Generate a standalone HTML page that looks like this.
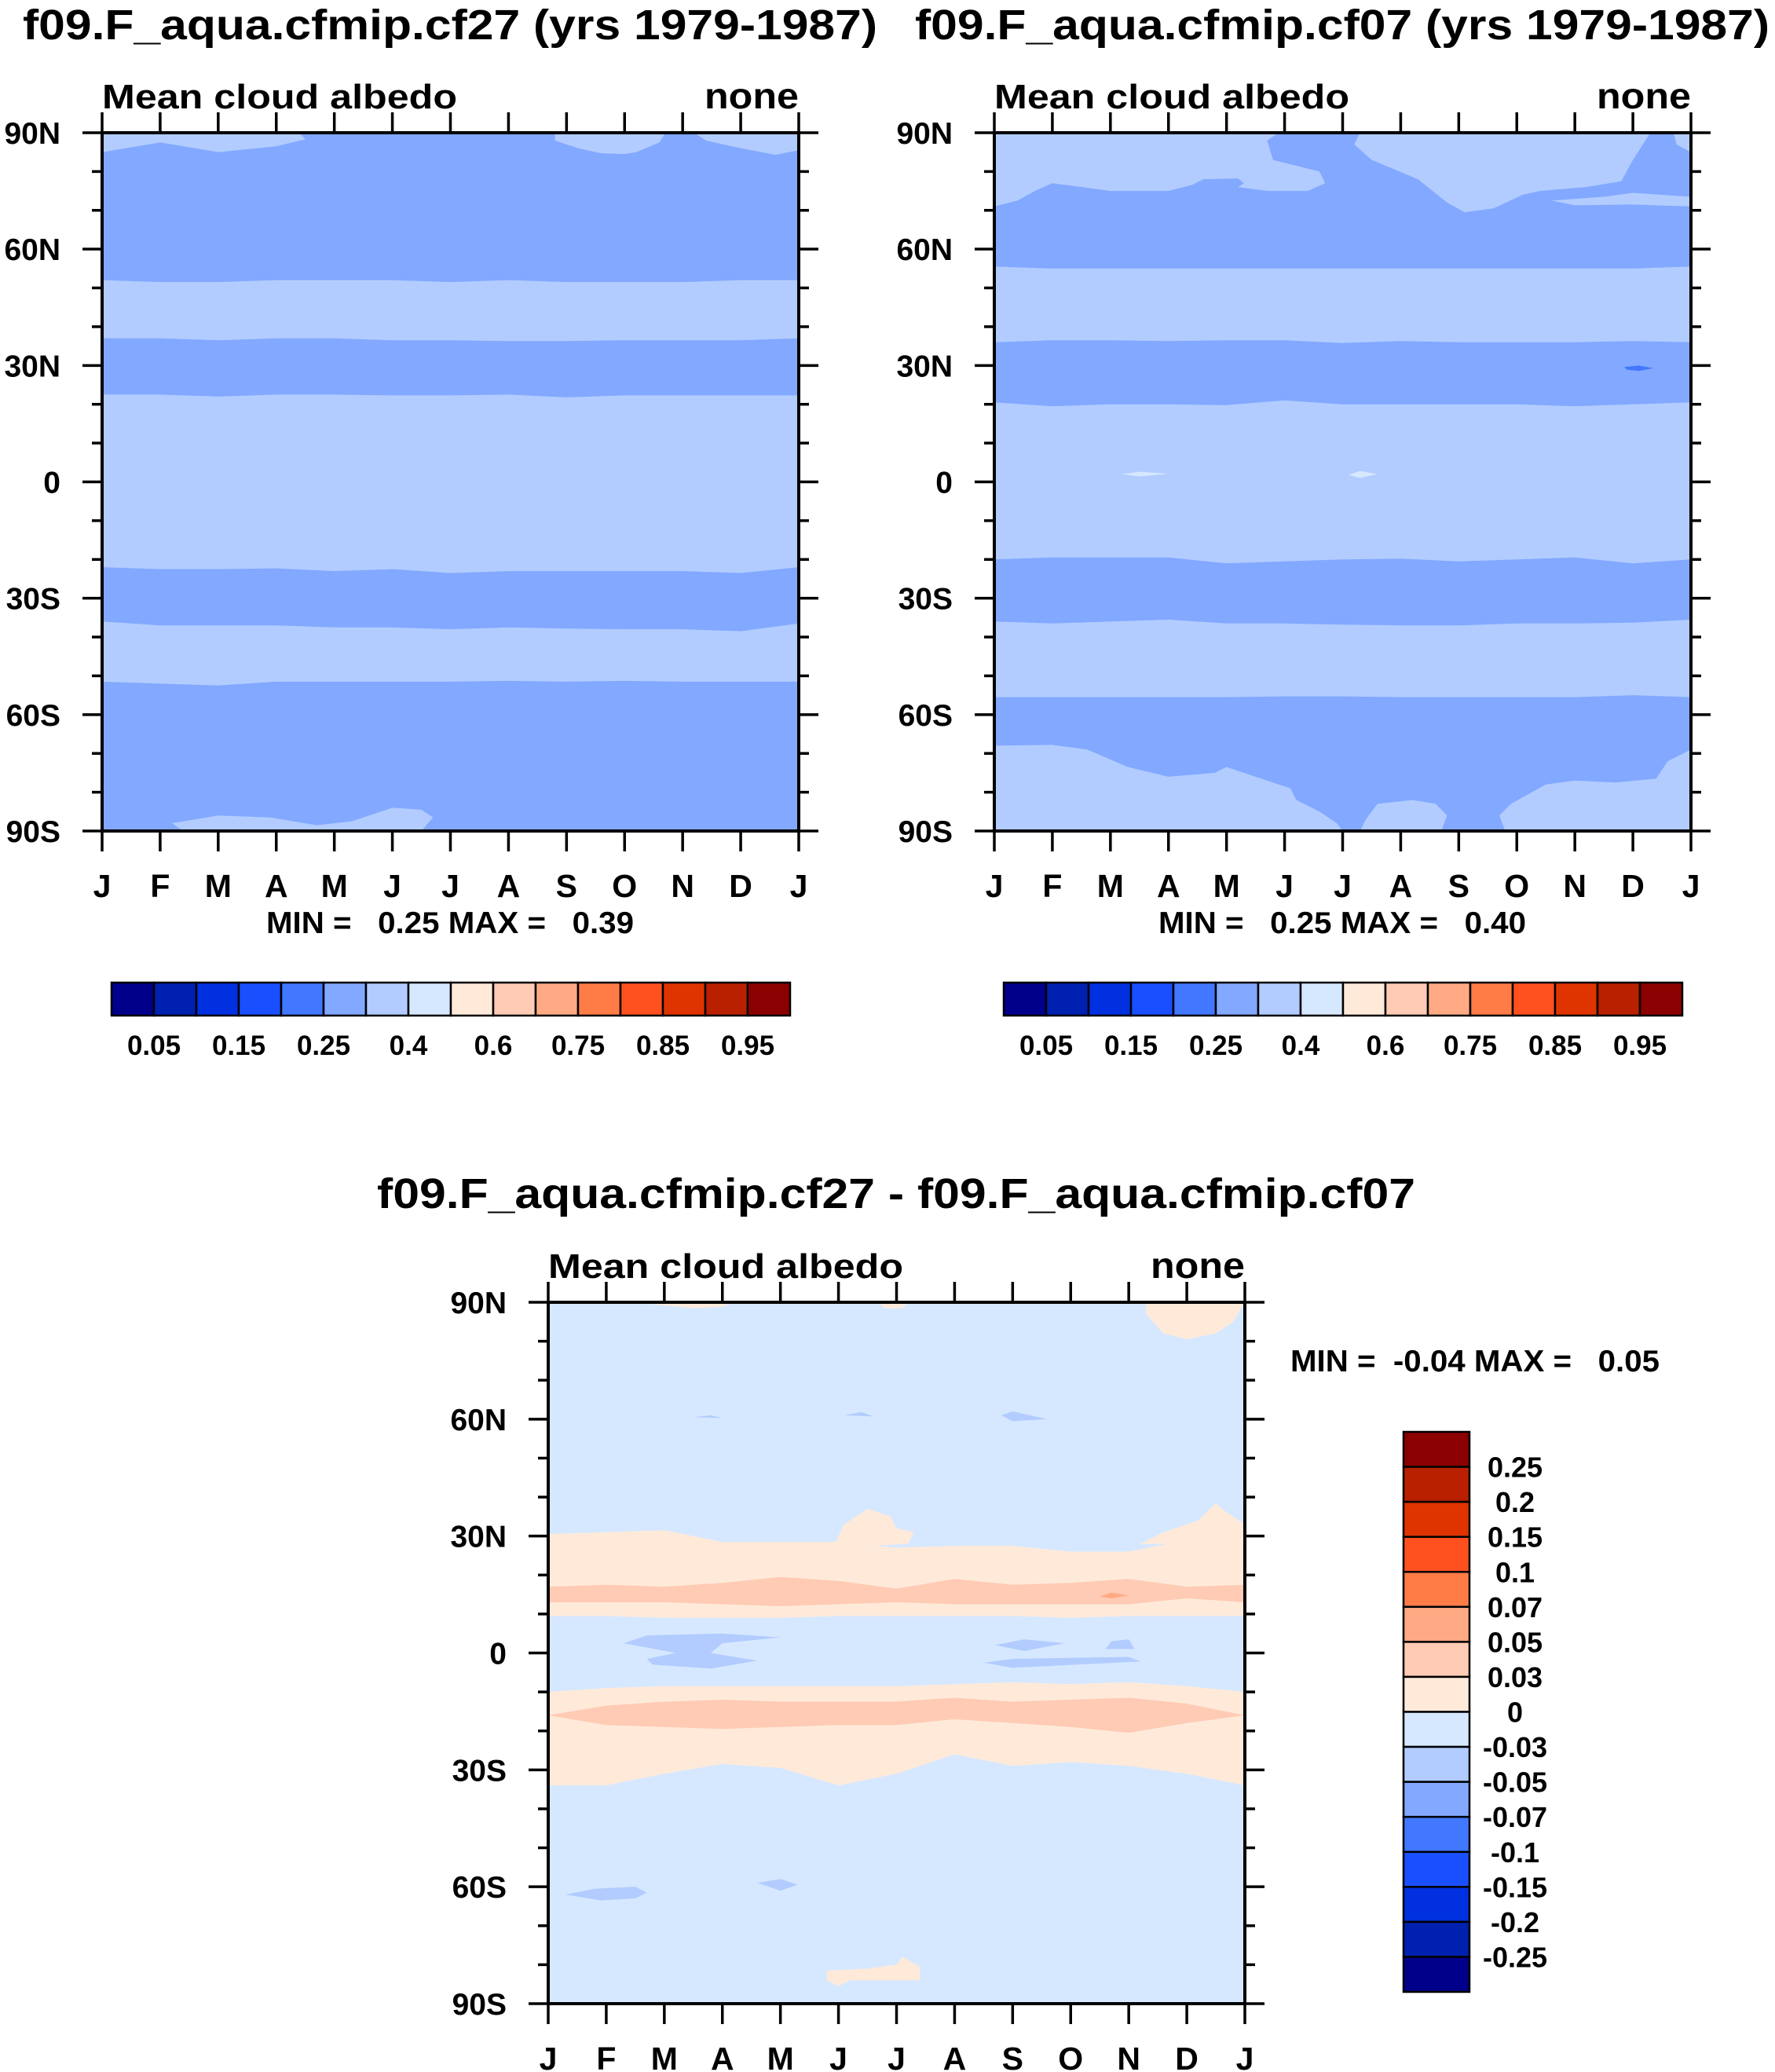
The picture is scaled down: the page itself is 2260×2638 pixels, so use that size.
<!DOCTYPE html>
<html><head><meta charset="utf-8"><style>
html,body{margin:0;padding:0;background:#fff}
svg{display:block}
text{font-family:"Liberation Sans",Arial,sans-serif;font-weight:bold;fill:#000;white-space:pre}
</style></head><body>
<svg id="fig" width="2260" height="2638" viewBox="0 0 2260 2638" xmlns="http://www.w3.org/2000/svg"></svg>
<script>
// ---- colour scale ----
const levelColors = ["#00008a","#0020b0","#0030e0","#1a4fff","#4277ff","#82a8ff","#b2ccff","#d6e8ff","#ffeada","#ffcbb4","#ffaa84","#ff7c46","#ff5020","#e03400","#b82000","#8b0000"];
const topBarLabels = ["0.05","0.15","0.25","0.4","0.6","0.75","0.85","0.95"];
const diffBarLabels = ["0.25","0.2","0.15","0.1","0.07","0.05","0.03","0","-0.03","-0.05","-0.07","-0.1","-0.15","-0.2","-0.25"];
const monthLabels = ["J","F","M","A","M","J","J","A","S","O","N","D","J"];
const latTicks = [90,60,30,0,-30,-60,-90];
const latTickLabels = ["90N","60N","30N","0","30S","60S","90S"];

// ---- panel A (cf27): band boundaries, lat at months 0..12 ----
const aN1Top = [52,51.5,51.5,52,52,52,51.5,52,51.5,51.5,51.5,52,52];
const aN1Bot = [37,37,36.5,37,37,36.5,36.5,36.3,36.3,36.5,36.5,36.5,37];
const aEqTop = [22.5,22.5,22,22.5,22.5,22.3,22.3,22.5,21.8,22.3,22.3,22.3,22.3];
const aEqBot = [-22,-22.5,-22.5,-22.3,-23,-22.5,-23.5,-23,-23,-23,-23,-23.5,-22];
const aS1Top = [-36,-37,-37,-37,-37.5,-37.5,-38,-37.5,-37.8,-38,-38,-38.5,-36.5];
const aS1Bot = [-51.5,-52,-52.5,-51.5,-51.5,-51.5,-51.5,-51.3,-51.5,-51.3,-51.5,-51.5,-51.5];
const aBlobN1 = [[0,90],[0,85],[1,87.5],[1.6,86],[2,85],[3,86.5],[3.5,88.3],[3.4,90]];
const aBlobN2 = [[7.8,90],[7.8,88],[8.2,86],[8.6,84.7],[9,84.5],[9.2,85],[9.6,87.5],[9.7,90]];
const aBlobN3 = [[10.2,90],[10.4,88],[11,86],[11.6,84.3],[12,85.5],[12,90]];
const aBlobS1 = [[1.2,-88],[2,-86],[2.9,-86.5],[3.7,-88.5],[4.3,-87.5],[5,-84],[5.5,-84.5],[5.7,-86.5],[5.5,-90],[1.4,-90]];

// ---- panel B (cf07) ----
const bNTopLine = [[0,71],[0.4,72.5],[0.7,75],[1,77],[1.5,76],[2,75],[3,75],[3.4,76.5],[3.6,78],[4.2,78.2],[4.3,77],[4.2,76],[4.7,75],[5.4,75],[5.7,77],[5.6,80],[4.8,83],[4.7,88],[4.9,90],[6.3,90],[6.2,87],[6.5,83],[7.3,78],[7.8,72],[8.1,69.5],[8.6,70.5],[9.1,74],[9.4,75],[10.2,76],[10.8,77.5],[11,83],[11.3,90],[12,90]];
const bNBot = [55.5,55,55,55,55,55,55,55,55,55,55,55,55.5];
const bBlobNR = [[11.7,90],[11.75,87],[12,85],[12,90]];
const bBlobNSliver = [[9.6,72.5],[10.5,73.5],[11,74.5],[12,73.5],[12,71],[11,71.5],[10,71.3]];
const bD2Top = [36,36.5,36.5,36.3,36.5,36.5,35.8,36.3,36,36,36,36.3,36];
const bD2Bot = [20.5,19.5,20,20,19.8,21,20,20,20,20,19.5,20,20.5];
const bBlobSpot = [[10.85,29.6],[11.1,30],[11.35,29.3],[11.1,28.6],[10.9,28.9]];
const bBlobEq1 = [[2.2,2],[2.5,2.6],[3,2.1],[2.5,1.4]];
const bBlobEq2 = [[6.1,1.8],[6.3,2.8],[6.6,2],[6.3,1]];
const bD3Top = [-20,-19.5,-19.5,-19.5,-21,-20.5,-20,-19.8,-20.5,-20,-19.5,-21,-20];
const bD3Bot = [-36,-36.5,-36,-35.5,-36.5,-36.5,-36.8,-37,-37,-36.5,-36.5,-36.3,-35.5];
const bSTop = [-55.5,-55.5,-55.5,-55.5,-55.5,-55.3,-55.3,-55.5,-55.5,-55.5,-55.5,-55,-55.5];
const bSBotLine = [[0,-68],[1,-67.8],[1.6,-69],[2.3,-73.5],[3,-76],[3.8,-75],[4,-73.5],[4.5,-76],[5.1,-79],[5.2,-82],[5.6,-85],[5.9,-88],[6,-90],[6.3,-90],[6.4,-87],[6.6,-83],[7.2,-82],[7.6,-83],[7.8,-86],[7.7,-90],[8.8,-90],[8.7,-86],[8.9,-83],[9.5,-78],[10,-77],[10.7,-77.5],[11.4,-76.5],[11.6,-72],[12,-69]];

// ---- panel C (difference) ----
const cNTop = [30.5,31,31.5,28.5,28.5,28.5,27,27.5,27.5,26,26,29,31];
const cNBot = [9.5,9.5,9,9,9,9.5,9.5,9.5,9.5,9,9.5,9.5,9.5];
const cNDTop = [17,17.5,17,18,19.5,18.5,16.5,19,17.5,18,19,17,17.5];
const cNDBot = [13,13,13,12.5,12,12.5,13,12.5,12.5,12.5,12.5,14,13];
const cSTop = [-10,-9,-8.5,-8.5,-8.5,-8.5,-8.5,-8,-7.5,-8,-7.5,-8.5,-10];
const cSBot = [-34,-34,-31,-28.5,-29.5,-34,-31,-26,-29,-28,-29,-31,-34];
const cSDTop = [-16,-13.5,-12.5,-12,-12.5,-12.5,-12.5,-11.5,-12.5,-12,-11.5,-13,-16];
const cSDBot = [-16,-18.5,-19,-19.5,-19,-18.5,-18.5,-17,-18,-19,-20.5,-18,-16];
const cOrangeBlobs = [
  [[4.9,27],[5,30],[5.1,33],[5.5,37],[5.9,35],[6,32],[6.3,31],[6.2,28]],
  [[10.2,28],[10.6,31],[11.2,34],[11.5,38.5],[11.6,37],[12,33],[12,28]],
  [[4.8,-81.5],[5.5,-81],[6,-80],[6.1,-78],[6.4,-80.5],[6.4,-84],[5.2,-84],[5,-85.5],[4.8,-84]],
  [[1.8,89.5],[2.5,88.5],[3.1,89],[3,90],[1.8,90]],
  [[5.7,90],[5.8,88.5],[6.1,88.5],[6.2,90]],
  [[10.3,90],[10.3,87],[10.6,82],[11,80.5],[11.5,82],[11.8,85],[12,90]]
];
const cBlueBlobs = [
  [[1.3,2.5],[1.7,4.5],[3,5],[4,4],[3,2.5],[2.8,0],[3.6,-2],[2.8,-4],[1.8,-3],[1.7,-1.5],[2.2,0]],
  [[7.7,2],[8.2,3.5],[8.9,2.5],[8.2,0.5]],
  [[7.5,-2.5],[8,-1.5],[10,-1],[10.2,-2.2],[8,-3.8]],
  [[9.6,1],[9.7,3],[10,3.5],[10.1,1]],
  [[0.3,-62],[0.8,-60.5],[1.5,-60],[1.7,-61.5],[1.5,-63],[0.9,-63.5]],
  [[3.6,-59],[4,-58],[4.3,-59.5],[4,-61]],
  [[2.5,60.5],[2.8,61],[3,60.3]],
  [[5.1,61],[5.4,61.8],[5.6,60.7]],
  [[7.8,61],[8,62],[8.3,61],[8.6,60],[8,59.5]]
];
const cRedSpot = [[9.5,14.5],[9.7,15.5],[10,14.8],[9.7,14]];

const NS = "http://www.w3.org/2000/svg";
const svg = document.getElementById("fig");
function mk(tag, attrs, parent){ const e=document.createElementNS(NS,tag); for(const k in attrs) e.setAttribute(k,attrs[k]); (parent||svg).appendChild(e); return e; }
function txt(s, x, y, size, anchor, parent, len){ const t=mk("text",{x:x,y:y,"font-size":size,"text-anchor":anchor||"start"},parent); if(len){t.setAttribute("textLength",len);t.setAttribute("lengthAdjust","spacingAndGlyphs");} t.textContent=s; return t; }

function makePanel(px, py, w, h, name){
  const g = mk("g",{});
  
  
  const sx = m => px + m/12*w;
  const sy = lat => py + (90-lat)/180*h;
  const clip = mk("clipPath",{id:"clip-"+name}, g);
  mk("rect",{x:px,y:py,width:w,height:h},clip);
  const fg = mk("g",{"clip-path":"url(#clip-"+name+")"}, g);
  return {g, fg, sx, sy, px, py, w, h};
}
function bgFill(P, ci, nm){ const r=mk("rect",{x:P.px,y:P.py,width:P.w,height:P.h,fill:levelColors[ci]},P.fg);   }
function band(P, top, bot, ci, nm){
  const pts=[];
  top.forEach((v,i)=>pts.push(P.sx(i)+","+P.sy(v)));
  for(let i=bot.length-1;i>=0;i--) pts.push(P.sx(i)+","+P.sy(bot[i]));
  const p=mk("polygon",{points:pts.join(" "),fill:levelColors[ci]},P.fg);
  
  
}
function lineBand(P, line, arr, ci, nm, lineOnTop){
  const pts=[];
  if(lineOnTop){ line.forEach(q=>pts.push(P.sx(q[0])+","+P.sy(q[1]))); for(let i=arr.length-1;i>=0;i--) pts.push(P.sx(i)+","+P.sy(arr[i])); }
  else { arr.forEach((v,i)=>pts.push(P.sx(i)+","+P.sy(v))); for(let i=line.length-1;i>=0;i--) pts.push(P.sx(line[i][0])+","+P.sy(line[i][1])); }
  const p=mk("polygon",{points:pts.join(" "),fill:levelColors[ci]},P.fg);
  
  
}
function blob(P, poly, ci, nm){
  const p=mk("polygon",{points:poly.map(q=>P.sx(q[0])+","+P.sy(q[1])).join(" "),fill:levelColors[ci]},P.fg);
  
  
}
function axes(P){
  const g=P.g;
  const fr=mk("rect",{x:P.px,y:P.py,width:P.w,height:P.h,fill:"none",stroke:"#000","stroke-width":4},g);
  
  
  monthLabels.forEach((m,i)=>{
    const x=P.sx(i);
    mk("line",{x1:x,y1:P.py,x2:x,y2:P.py-26,stroke:"#000","stroke-width":3.5},g);
    mk("line",{x1:x,y1:P.py+P.h,x2:x,y2:P.py+P.h+26,stroke:"#000","stroke-width":3.5},g);
    const t=txt(m,x,P.py+P.h+84,41,"middle",g);
    
    
  });
  for(let lat=90;lat>=-90;lat-=10){
    const y=P.sy(lat), major=(lat%30===0), L=major?25:13;
    mk("line",{x1:P.px,y1:y,x2:P.px-L,y2:y,stroke:"#000","stroke-width":3.5},g);
    mk("line",{x1:P.px+P.w,y1:y,x2:P.px+P.w+L,y2:y,stroke:"#000","stroke-width":3.5},g);
  }
  latTicks.forEach((lat,i)=>{
    const t=txt(latTickLabels[i],P.px-53,P.sy(lat)+14,39,"end",g);
    
    
  });
  const l=txt("Mean cloud albedo",P.px,P.py-31,44,"start",g,452);
  
  
  const r=txt("none",P.px+P.w,P.py-31,46,"end",g,120);
  
  
}
function hBar(x0, y0, bw, bh, name){
  const g=mk("g",{});
  
  
  levelColors.forEach((c,i)=>{
    const r=mk("rect",{x:x0+i*bw,y:y0,width:bw,height:bh,fill:c,stroke:"#000","stroke-width":2.5},g);
    
    
  });
  topBarLabels.forEach((s,i)=>{
    const t=txt(s,x0+(2*i+1)*bw,y0+92,35,"middle",g);
    
    
  });
}

// ---- Panel A ----
const A = makePanel(130,169,887,889,"panel-cf27");
bgFill(A,5,"field-background");
band(A,aN1Top,aN1Bot,6,"band-north-mid");
band(A,aEqTop,aEqBot,6,"band-equator");
band(A,aS1Top,aS1Bot,6,"band-south-mid");
[aBlobN1,aBlobN2,aBlobN3,aBlobS1].forEach(b=>blob(A,b,6,"contour-blob"));
axes(A);
let t=txt("f09.F_aqua.cfmip.cf27 (yrs 1979-1987)",573,50,54,"middle",null,1088);
 
t=txt("MIN =   0.25 MAX =   0.39",573,1188,39,"middle",null,468);
 
hBar(142,1251,54,42,"colorbar-cf27");

// ---- Panel B ----
const B = makePanel(1266,169,887,889,"panel-cf07");
bgFill(B,6,"field-background");
lineBand(B,bNTopLine,bNBot,5,"band-north-dark",true);
blob(B,bBlobNR,6,"contour-blob"); blob(B,bBlobNSliver,6,"contour-blob");
band(B,bD2Top,bD2Bot,5,"band-subtropic-north");
blob(B,bBlobSpot,4,"contour-blob");
blob(B,bBlobEq1,7,"contour-blob"); blob(B,bBlobEq2,7,"contour-blob");
band(B,bD3Top,bD3Bot,5,"band-subtropic-south");
lineBand(B,bSBotLine,bSTop,5,"band-south-dark",false);
axes(B);
t=txt("f09.F_aqua.cfmip.cf07 (yrs 1979-1987)",1709,50,54,"middle",null,1088);
 
t=txt("MIN =   0.25 MAX =   0.40",1709,1188,39,"middle",null,468);
 
hBar(1278,1251,54,42,"colorbar-cf07");

// ---- Panel C ----
const C = makePanel(698,1658,887,893,"panel-difference");
bgFill(C,7,"field-background");
band(C,cNTop,cNBot,8,"band-north-positive");
band(C,cNDTop,cNDBot,9,"band-north-positive-strong");
band(C,cSTop,cSBot,8,"band-south-positive");
band(C,cSDTop,cSDBot,9,"band-south-positive-strong");
cOrangeBlobs.forEach(b=>blob(C,b,8,"contour-blob"));
cBlueBlobs.forEach(b=>blob(C,b,6,"contour-blob"));
blob(C,cRedSpot,10,"contour-blob");
axes(C);
t=txt("f09.F_aqua.cfmip.cf27 - f09.F_aqua.cfmip.cf07",1141,1538,54,"middle",null,1322);
 
t=txt("MIN =  -0.04 MAX =   0.05",1643,1746,39,"start",null,470);
 
// vertical colorbar
const vb=mk("g",{});


const vbTop=1823, vbBot=2536, vbX=1787, vbW=84;
const vbh=(vbBot-vbTop)/16;
for(let i=0;i<16;i++){
  const r=mk("rect",{x:vbX,y:vbTop+i*vbh,width:vbW,height:vbh,fill:levelColors[15-i],stroke:"#000","stroke-width":2.5},vb);
  
  
}
diffBarLabels.forEach((s,i)=>{
  const tt=txt(s,1929,vbTop+(i+1)*vbh+13,36,"middle",vb);
  
  
});
</script>
</body></html>
